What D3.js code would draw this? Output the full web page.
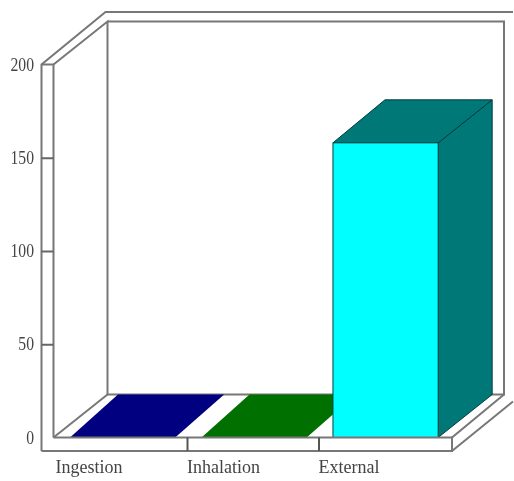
<!DOCTYPE html>
<html>
<head>
<meta charset="utf-8">
<script src="https://cdn.jsdelivr.net/npm/d3@7"></script>
<style>
html, body { margin:0; padding:0; background:#fff; overflow:hidden; }
svg { display:block; filter:blur(0.7px); }
text { font-family:"Liberation Serif", serif; font-size:18px; fill:#444; }
</style>
</head>
<body>
<script>
var categories = ["Ingestion","Inhalation","External"];
var values = [0,0,158];
var frontColors = ["#000080","#007000","#00ffff"];
var topColors = ["#000080","#007000","#007878"];
var yTicks = [0,50,100,150,200];

var width = 514, height = 481;
var depthX = 52, depthY = -43; // 3d offset of the back wall
var flatDepthX = 48;

var x = d3.scaleBand()
          .domain(categories)
          .range([55.5,450])
          .paddingInner(0.2)
          .paddingOuter(0.1)
          .align(0.55);

var y = d3.scaleLinear()
          .domain([0,200])
          .range([437.5,64.5]);

var svg = d3.select("body").append("svg").attr("width",width).attr("height",height);

var chart = svg.append("g");

function poly(pts){ return pts.map(function(p){return p.join(",");}).join(" "); }

var x0 = x.range()[0], x1 = x.range()[1], yTop = y(200), yBot = y(0);
var backX = x0-2+depthX+2, backRight = x1+depthX+2, backBot = yBot+depthY, backTop = yTop+depthY;
var baseY = yBot+13.5;

function wall(pts){
  chart.append("polyline").attr("fill","none").attr("stroke","#777").attr("stroke-width",2)
       .attr("points",poly(pts));
}

// Walls
wall([[x0-14,baseY],[x0-14,yTop],[x0+50,12],[513,12]]);
wall([[x0-14,yTop],[x0-2,yTop],[x0-2,yBot]]);
wall([[x0-2,yTop],[backX,backTop],[backX,backBot],[backRight,backBot],[backRight,backTop],[backX,backTop]]);
wall([[x0-2,yBot],[backX,backBot]]);
wall([[x0-14,baseY],[x1+2,baseY],[x1+2,yBot],[backRight,backBot]]);
wall([[x1+2,baseY],[513,yBot-36]]);

// Bars
chart.selectAll("g.bar").data(categories).enter().append("g").attr("class","bar")
  .each(function(d,i){
    var g = d3.select(this), bx = x(d), bw = x.bandwidth(), ty = y(values[i]);
    if(values[i]>0){
      g.append("polygon").attr("fill",topColors[i]).attr("stroke","#003c3c")
       .attr("points",poly([[bx+bw,ty],[bx+bw+depthX+2,ty+depthY],[bx+bw+depthX+2,backBot],[bx+bw,yBot]]));
      g.append("polygon").attr("fill",topColors[i]).attr("stroke","#003c3c")
       .attr("points",poly([[bx,ty],[bx+depthX,ty+depthY],[bx+bw+depthX+2,ty+depthY],[bx+bw,ty]]));
      g.append("rect").attr("x",bx).attr("y",ty).attr("width",bw).attr("height",yBot-ty)
       .attr("fill",frontColors[i]).attr("stroke","#004040");
    } else {
      g.append("polygon").attr("fill",topColors[i])
       .attr("points",poly([[bx,ty],[bx+flatDepthX,backBot],[bx+bw+flatDepthX+1,backBot],[bx+bw,ty]]));
    }
  });

// Floor front edge goes over the bars
wall([[x0-2,yBot],[x1+2,yBot]]);

// Axes
var slot = d3.scaleLinear().domain([0,3]).range([x0,x1]);
var xAxis = d3.axisBottom(slot).tickValues([1,2]).tickSize(13.5).tickFormat("");
var xg = chart.append("g").attr("transform","translate(0,"+yBot+")").call(xAxis);
xg.select(".domain").remove();
xg.selectAll("line").attr("stroke","#555").attr("stroke-width",2);

var yAxis = d3.axisLeft(y).tickValues(yTicks.slice(1,4)).tickSize(12).tickFormat("");
var yg = chart.append("g").attr("transform","translate("+(x0-2)+",0)").call(yAxis);
yg.select(".domain").remove();
yg.selectAll("line").attr("stroke","#666").attr("stroke-width",2);

// Labels
var labelX = d3.scalePoint().domain(categories).range([x0,x0+263]);
svg.selectAll("text.xl").data(categories).enter().append("text").attr("class","xl")
   .attr("x",function(d){return labelX(d);}).attr("y",473)
   .text(function(d){return d;});

svg.selectAll("text.yl").data(yTicks).enter().append("text").attr("class","yl")
   .attr("transform",function(d){return "translate(34,"+(y(d)+6)+") scale(.87,1)";})
   .attr("text-anchor","end")
   .text(function(d){return d;});
</script>
</body>
</html>
